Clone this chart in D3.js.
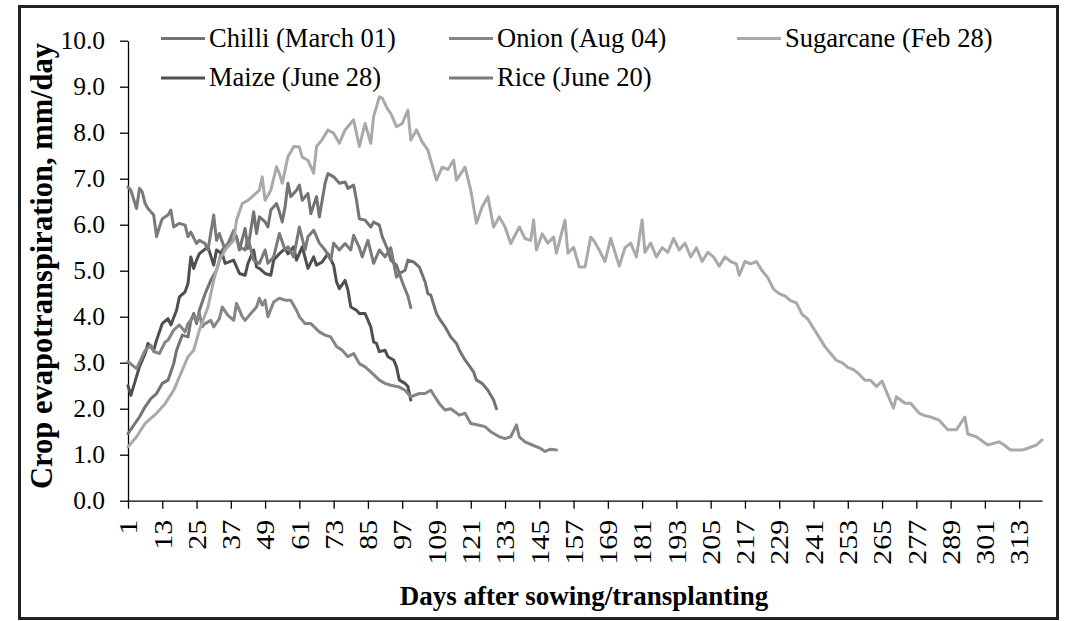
<!DOCTYPE html>
<html>
<head>
<meta charset="utf-8">
<script src="https://cdn.jsdelivr.net/npm/d3@7"></script>
<style>
body { margin: 0; background: #fff; }
text { font-family: "Liberation Serif", "Times New Roman", serif; fill: #000; }
.axis path, .axis line { stroke: #000; stroke-width: 1.3; }
</style>
</head>
<body>
<div id="chart"></div>
<script>
// tick labels
var dayTicks = [1, 13, 25, 37, 49, 61, 73, 85, 97, 109, 121, 133, 145, 157, 169, 181, 193, 205, 217, 229, 241, 253, 265, 277, 289, 301, 313];
var etTicks = [0, 1, 2, 3, 4, 5, 6, 7, 8, 9, 10];

// series: [day, ET mm/day]
var chilli = [[1,1.46],[3,1.64],[5,1.82],[7,2.04],[9,2.22],[11,2.33],[13,2.55],[15,2.62],[17,2.98],[18,3.27],[20,3.6],[22,3.56],[23,3.92],[24,4.07],[25,3.85],[26,4.14],[28,4.5],[30,4.79],[32,5.01],[33,5.23],[34,5.45],[35,5.52],[37,5.66],[39,5.74],[40,5.45],[42,5.92],[43,5.48],[44,5.88],[45,6.28],[46,5.81],[47,6.17],[49,6.06],[50,5.95],[51,6.32],[53,6.46],[54,6.28],[55,6.06],[56,6.39],[57,6.9],[58,6.61],[60,6.75],[61,6.86],[62,6.53],[64,6.68],[65,6.24],[67,6.61],[68,6.17],[70,6.9],[71,7.11],[73,7.04],[75,6.9],[77,6.93],[78,6.79],[80,6.86],[81,6.53],[82,6.13],[84,6.1],[86,5.95],[87,6.06],[89,5.99],[90,5.74],[92,5.45],[93,5.23],[95,5.12],[96,4.94],[98,5.01],[99,5.23],[101,5.19],[103,5.08],[105,4.76],[106,4.5],[107,4.47],[109,4.07],[110,3.96],[112,3.78],[114,3.56],[116,3.42],[117,3.27],[119,3.06],[122,2.8],[123,2.62],[125,2.55],[127,2.4],[129,2.19],[130,2.0]];

var maize = [[1,2.5],[2,2.29],[5,2.91],[7,3.2],[8,3.42],[10,3.27],[11,3.49],[13,3.85],[15,3.96],[16,3.82],[18,4.14],[19,4.43],[21,4.54],[22,4.72],[23,5.3],[24,5.05],[25,5.23],[26,5.37],[29,5.52],[31,5.12],[32,5.45],[34,5.37],[35,5.16],[38,5.23],[40,4.94],[42,4.9],[43,5.16],[45,5.45],[46,5.08],[47,5.05],[49,4.94],[51,4.9],[52,5.23],[54,5.37],[56,5.48],[57,5.37],[59,5.52],[60,5.23],[62,5.52],[64,5.05],[66,5.3],[67,5.12],[69,5.19],[71,5.37],[73,5.12],[74,4.76],[75,4.61],[77,4.79],[78,4.58],[79,4.21],[81,4.14],[82,4.07],[84,4.07],[86,3.78],[87,3.45],[88,3.42],[89,3.24],[91,3.27],[92,3.13],[94,3.06],[95,2.91],[96,2.62],[98,2.55],[99,2.48],[100,2.19]];

var onion = [[1,3.02],[4,2.87],[7,3.27],[9,3.38],[10,3.24],[12,3.2],[14,3.45],[15,3.49],[17,3.71],[19,3.82],[21,3.67],[22,3.85],[24,4.0],[25,3.92],[26,4.07],[27,3.78],[28,3.85],[30,3.92],[31,3.78],[33,3.96],[34,4.21],[36,4.03],[38,3.92],[39,4.29],[41,4.0],[42,3.92],[44,4.07],[46,4.21],[47,4.4],[48,4.25],[49,4.36],[50,4.0],[52,4.32],[54,4.4],[56,4.36],[58,4.36],[60,4.14],[61,4.0],[63,3.85],[65,3.85],[68,3.67],[70,3.6],[72,3.56],[74,3.35],[76,3.27],[78,3.13],[80,3.2],[82,2.98],[84,2.91],[86,2.8],[89,2.62],[91,2.55],[93,2.51],[96,2.47],[98,2.4],[100,2.26],[103,2.33],[105,2.33],[107,2.4],[110,2.11],[112,1.97],[114,2.0],[117,1.86],[119,1.9],[121,1.68],[124,1.64],[126,1.61],[128,1.5],[131,1.39],[133,1.35],[135,1.39],[137,1.65],[138,1.39],[140,1.28],[143,1.2],[145,1.15],[147,1.07],[149,1.12],[151,1.1]];

var rice = [[1,6.82],[2,6.75],[4,6.35],[5,6.79],[6,6.71],[7,6.46],[8,6.35],[10,6.21],[11,5.74],[12,5.95],[13,6.13],[15,6.21],[16,6.32],[17,5.95],[19,6.03],[21,5.99],[22,5.74],[23,5.84],[25,5.59],[26,5.66],[28,5.59],[29,5.45],[31,6.21],[32,5.66],[33,5.81],[35,5.45],[36,5.59],[38,5.88],[40,5.52],[42,5.45],[43,5.7],[45,5.23],[47,5.16],[49,5.45],[50,5.16],[52,5.3],[54,5.81],[56,5.45],[57,5.52],[59,5.3],[61,5.95],[63,5.45],[64,5.74],[66,5.88],[68,5.6],[70,5.45],[72,5.23],[73,5.6],[75,5.45],[77,5.59],[79,5.45],[80,5.77],[82,5.5],[83,5.3],[85,5.66],[87,5.16],[89,5.45],[91,5.3],[93,5.5],[95,4.86],[96,4.94],[97,4.76],[98,4.6],[99,4.45],[100,4.2]];

var sugarcane = [[1,1.17],[4,1.39],[7,1.68],[11,1.9],[14,2.11],[17,2.4],[19,2.69],[22,3.13],[24,3.27],[26,3.71],[29,4.21],[31,4.79],[33,5.23],[35,5.45],[38,5.66],[39,6.1],[41,6.46],[43,6.53],[45,6.64],[47,6.75],[48,7.04],[49,6.53],[51,6.75],[53,7.26],[54,7.11],[55,6.9],[57,7.48],[58,7.58],[59,7.7],[61,7.69],[62,7.47],[64,7.4],[66,7.12],[67,7.7],[69,7.85],[71,8.06],[73,7.99],[75,7.77],[77,8.06],[80,8.28],[82,7.7],[84,8.2],[86,7.77],[87,8.35],[89,8.78],[90,8.75],[92,8.5],[93,8.42],[95,8.13],[97,8.2],[99,8.49],[100,7.84],[102,8.06],[104,7.8],[106,7.62],[107,7.4],[109,6.97],[111,7.25],[113,7.2],[115,7.4],[116,6.97],[119,7.25],[121,6.75],[123,6.03],[125,6.39],[127,6.61],[129,5.95],[131,6.17],[133,5.95],[135,5.59],[138,5.95],[140,5.7],[142,5.66],[143,6.1],[144,5.45],[146,5.8],[148,5.6],[150,5.73],[151,5.38],[154,6.1],[155,5.38],[157,5.51],[159,5.08],[161,5.08],[163,5.73],[164,5.66],[166,5.45],[168,5.2],[170,5.7],[172,5.3],[173,5.1],[175,5.5],[177,5.6],[179,5.3],[181,6.1],[182,5.4],[184,5.6],[186,5.3],[188,5.5],[190,5.4],[192,5.7],[194,5.45],[196,5.6],[198,5.3],[200,5.5],[202,5.2],[204,5.4],[206,5.3],[208,5.1],[210,5.3],[212,5.2],[214,5.15],[215,4.9],[217,5.2],[219,5.15],[221,5.2],[223,5.0],[225,4.85],[227,4.6],[229,4.5],[231,4.45],[233,4.35],[235,4.3],[237,4.05],[239,3.95],[241,3.75],[243,3.55],[245,3.35],[247,3.2],[249,3.05],[251,3.0],[253,2.9],[255,2.85],[257,2.75],[259,2.62],[261,2.62],[263,2.48],[265,2.6],[267,2.3],[269,2.01],[270,2.26],[273,2.12],[275,2.12],[278,1.9],[280,1.85],[282,1.82],[285,1.75],[288,1.54],[291,1.54],[294,1.82],[295,1.45],[298,1.39],[302,1.21],[306,1.28],[308,1.2],[310,1.1],[314,1.1],[316,1.14],[319,1.21],[321,1.32]];

var seriesNames = ["Chilli (March 01)", "Maize (June 28)", "Onion (Aug 04)", "Rice (June 20)", "Sugarcane (Feb 28)"];
var seriesData = [chilli, maize, onion, rice, sugarcane];
var seriesColors = ["#737373", "#4f4f4f", "#858585", "#7a7a7a", "#a9a9a9"];

var W = 1088, H = 621;

var svg = d3.select("#chart").append("svg")
    .attr("width", W)
    .attr("height", H);

svg.append("rect")
    .attr("width", W).attr("height", H)
    .attr("fill", "#fff");

// outer frame
svg.append("rect")
    .attr("x", 19.5).attr("y", 6.5)
    .attr("width", 1038).attr("height", 612)
    .attr("fill", "none")
    .attr("stroke", "#222")
    .attr("stroke-width", 3);

// scales
var x = d3.scaleLinear().domain([1, 321]).range([128, 1042]);
var y = d3.scaleLinear().domain([0, 10]).range([500.7, 40.7]);

// axes
var yAxis = d3.axisLeft(y)
    .tickValues(etTicks)
    .tickFormat(d3.format(".1f"))
    .tickSize(8)
    .tickSizeOuter(0)
    .tickPadding(15);

var xAxis = d3.axisBottom(x)
    .tickValues(dayTicks)
    .tickSize(8)
    .tickSizeOuter(0);

var gy = svg.append("g")
    .attr("class", "axis")
    .attr("transform", "translate(128,0)")
    .call(yAxis);
gy.selectAll("text")
    .style("font-size", "25.5px")
    .style("font-family", "'Liberation Serif', serif");

var gx = svg.append("g")
    .attr("class", "axis")
    .attr("transform", "translate(0," + y(0) + ")")
    .call(xAxis);
gx.selectAll("text")
    .attr("x", 0)
    .attr("y", 0)
    .attr("dy", "0.35em")
    .attr("text-anchor", "end")
    .attr("transform", "translate(0,19) scale(1,1.2) rotate(-90)")
    .style("font-size", "25px")
    .style("font-family", "'Liberation Serif', serif");

// lines
var line = d3.line()
    .x(function(d) { return x(d[0]); })
    .y(function(d) { return y(d[1]); });

svg.selectAll(".series")
    .data(seriesData)
    .enter().append("path")
    .attr("class", "series")
    .attr("d", line)
    .attr("fill", "none")
    .attr("stroke", function(d, i) { return seriesColors[i]; })
    .attr("stroke-width", 3)
    .attr("stroke-linejoin", "round")
    .attr("stroke-linecap", "round");

// legend (column-major, 3 columns x 2 rows)
var legend = svg.append("g");
seriesNames.forEach(function(name, i) {
    var col = Math.floor(i / 2), row = i % 2;
    var lx = 161 + col * 288, ly = 38.5 + row * 39.5;
    legend.append("line")
        .attr("x1", lx).attr("x2", lx + 44)
        .attr("y1", ly).attr("y2", ly)
        .attr("stroke", seriesColors[i])
        .attr("stroke-width", 3);
    legend.append("text")
        .attr("x", lx + 48)
        .attr("y", ly + 8)
        .style("font-size", "26.5px")
        .text(name);
});

// axis titles
svg.append("text")
    .attr("transform", "translate(52,266) rotate(-90)")
    .attr("text-anchor", "middle")
    .style("font-size", "30.5px")
    .style("font-weight", "bold")
    .text("Crop evapotranspiration, mm/day");

svg.append("text")
    .attr("x", 584)
    .attr("y", 605)
    .attr("text-anchor", "middle")
    .style("font-size", "27px")
    .style("font-weight", "bold")
    .text("Days after sowing/transplanting");
</script>
</body>
</html>
